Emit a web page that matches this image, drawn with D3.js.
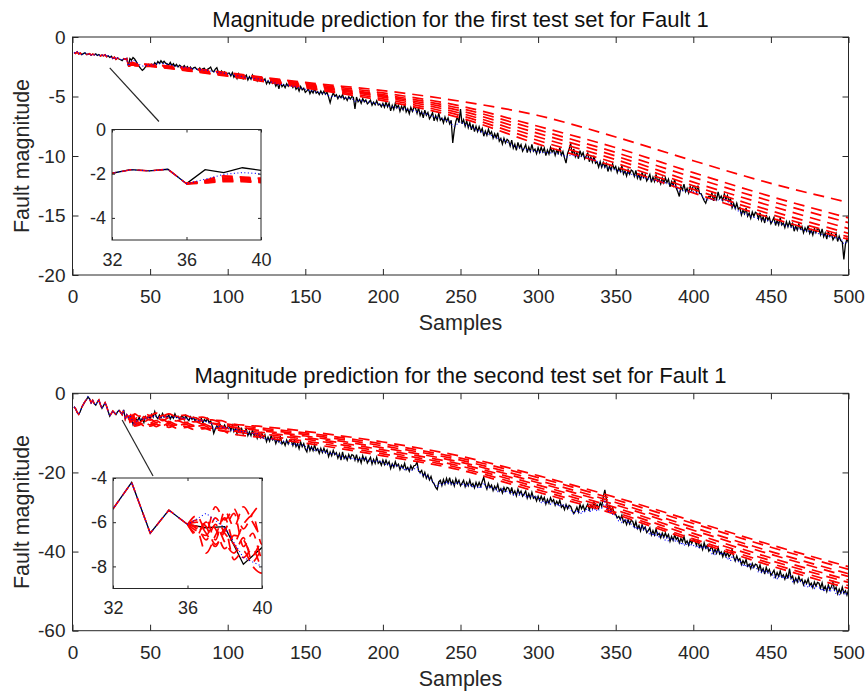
<!DOCTYPE html>
<html>
<head>
<meta charset="utf-8">
<script src="https://cdn.jsdelivr.net/npm/d3@7"></script>
<style>
body { margin: 0; background: #fff; }
svg text { font-family: "Liberation Sans", Arial, Helvetica, sans-serif; fill: #262626; }
</style>
</head>
<body>
<div id="chart"></div>
<script>
// tick values and labels
const xTicks = [0, 50, 100, 150, 200, 250, 300, 350, 400, 450, 500];
const topYTicks = [0, -5, -10, -15, -20];
const bottomYTicks = [0, -20, -40, -60];
const insetXTicks = [32, 36, 40];
const topInsetYTicks = [0, -2, -4];
const bottomInsetYTicks = [-4, -6, -8];
const titles = ["Magnitude prediction for the first test set for Fault 1",
                "Magnitude prediction for the second test set for Fault 1"];
const xLabel = "Samples";
const yLabel = "Fault magnitude";

// sample numbers 1..500
const samples = d3.range(1, 501);
const historyEnd = 36;

// true fault magnitude, first test set
const blackTop = [
-1.30,-1.38,-1.25,-1.42,-1.35,-1.48,-1.40,-1.33,-1.47,-1.45,-1.40,-1.52,-1.44,-1.50,-1.42,-1.55,-1.47,-1.60,-1.52,-1.58,
-1.50,-1.66,-1.58,-1.72,-1.62,-1.80,-1.70,-1.88,-1.76,-1.85,-1.90,-1.98,-1.82,-1.87,-1.80,-2.45,-1.82,-1.95,-1.73,-1.85,
-2.05,-2.30,-2.48,-2.66,-2.80,-2.70,-2.52,-2.40,-2.30,-2.42,-2.28,-2.40,-2.16,-2.32,-2.06,-2.22,-2.00,-2.18,-2.04,-2.20,
-2.26,-2.36,-2.14,-2.40,-2.24,-2.46,-2.30,-2.52,-2.36,-2.48,-2.56,-2.40,-2.62,-2.48,-2.68,-2.52,-2.72,-2.58,-2.54,-2.70,
-2.76,-2.60,-2.84,-2.66,-2.62,-2.88,-2.72,-2.64,-2.52,-2.84,-2.92,-2.70,-2.58,-2.96,-3.04,-2.86,-3.10,-2.94,-3.18,-3.06,
-3.02,-3.28,-2.98,-3.38,-3.18,-3.49,-3.09,-3.35,-3.20,-3.52,-3.38,-3.20,-3.61,-3.34,-3.56,-3.21,-3.56,-3.45,-3.69,-3.39,
-3.64,-3.41,-3.68,-3.52,-3.94,-3.69,-3.92,-3.63,-3.90,-3.79,-4.13,-3.88,-4.36,-3.77,-4.17,-4.00,-4.26,-3.93,-4.14,-3.92,
-3.97,-4.25,-3.97,-4.39,-4.21,-4.54,-4.16,-4.44,-4.31,-4.65,-4.53,-4.35,-4.76,-4.49,-4.71,-4.36,-4.71,-4.60,-4.84,-4.54,
-4.79,-4.55,-4.81,-4.64,-5.05,-5.52,-5.01,-4.71,-4.97,-4.85,-5.18,-4.93,-5.11,-4.83,-5.23,-5.07,-5.33,-5.01,-5.22,-5.01,
-5.07,-6.05,-5.04,-5.45,-5.25,-5.57,-5.17,-5.44,-5.29,-5.62,-5.48,-5.31,-5.73,-5.47,-5.70,-5.36,-5.72,-5.62,-5.87,-5.58,
-5.90,-5.47,-5.87,-5.56,-6.21,-5.75,-6.09,-5.55,-5.96,-5.73,-6.25,-5.83,-6.12,-5.65,-6.30,-6.03,-6.45,-5.91,-6.25,-5.90,
-5.98,-6.42,-5.93,-6.60,-6.28,-6.80,-6.14,-6.58,-6.34,-6.88,-6.65,-6.36,-7.04,-6.60,-6.98,-6.40,-6.99,-6.82,-7.22,-6.72,
-7.10,-6.80,-7.30,-7.00,-8.90,-7.80,-7.10,-6.70,-7.20,-6.05,-7.30,-6.95,-7.50,-7.05,-7.62,-7.20,-7.80,-7.35,-7.95,-7.50,
-7.95,-7.54,-7.96,-7.67,-8.34,-7.90,-8.26,-7.74,-8.17,-7.96,-8.50,-8.13,-8.47,-8.05,-8.75,-8.53,-9.00,-8.51,-8.90,-8.60,
-8.73,-9.17,-8.67,-9.34,-9.01,-9.53,-8.86,-9.30,-9.05,-9.59,-9.35,-9.05,-9.71,-9.26,-9.62,-9.03,-9.60,-9.42,-9.80,-9.29,
-9.70,-9.26,-9.65,-9.33,-9.97,-9.50,-9.83,-9.28,-9.68,-9.44,-9.95,-9.51,-9.78,-9.29,-9.92,-9.63,-10.16,-10.60,-9.79,-9.42,
-8.95,-9.91,-9.40,-10.06,-9.72,-10.23,-9.55,-9.98,-9.72,-10.25,-10.00,-9.76,-10.48,-10.09,-10.51,-9.98,-10.61,-10.49,-10.93,-10.48,
-10.95,-10.53,-10.94,-10.64,-11.30,-10.85,-11.20,-10.67,-11.09,-10.87,-11.40,-10.99,-11.30,-10.84,-11.51,-11.25,-11.69,-11.16,-11.52,-11.18,
-11.28,-11.71,-11.21,-11.87,-11.54,-12.05,-11.38,-11.81,-11.56,-12.09,-11.85,-11.55,-12.22,-11.77,-12.14,-11.55,-12.13,-11.95,-12.34,-11.83,
-12.25,-11.83,-12.24,-11.94,-12.60,-12.15,-12.50,-11.97,-12.70,-13.00,-13.40,-12.57,-12.85,-12.36,-13.00,-12.71,-13.12,-12.56,-12.89,-12.52,
-12.58,-13.00,-12.49,-13.14,-13.16,-13.46,-13.76,-13.97,-13.54,-13.40,-13.45,-13.12,-13.77,-13.29,-13.64,-13.02,-13.58,-13.37,-13.74,-13.20,
-13.65,-13.32,-13.81,-13.60,-14.34,-13.98,-14.41,-13.97,-14.47,-14.34,-14.95,-14.54,-14.85,-14.39,-15.06,-14.80,-15.24,-14.71,-15.07,-14.73,
-14.83,-15.27,-14.77,-15.44,-15.11,-15.63,-14.96,-15.40,-15.15,-15.69,-15.45,-15.16,-15.84,-15.40,-15.78,-15.20,-15.79,-15.62,-16.02,-15.52,
-15.95,-15.54,-15.95,-15.66,-16.32,-15.88,-16.23,-15.71,-16.13,-15.92,-16.45,-16.03,-16.32,-15.85,-16.50,-16.23,-16.65,-16.11,-16.45,-16.10,
-16.18,-16.62,-16.12,-16.79,-16.46,-16.98,-16.31,-16.75,-16.50,-17.04,-16.80,-16.51,-17.18,-16.74,-17.11,-17.24,-18.70,-17.44,-16.96,-17.30
];

// estimated magnitude, first test set
const blueTop = [
-1.30,-1.38,-1.25,-1.42,-1.35,-1.48,-1.40,-1.33,-1.47,-1.45,-1.40,-1.52,-1.44,-1.50,-1.42,-1.55,-1.47,-1.60,-1.52,-1.58,
-1.50,-1.66,-1.58,-1.72,-1.62,-1.80,-1.70,-1.88,-1.76,-1.85,-1.90,-1.98,-1.82,-1.87,-1.80,-2.45,-2.25,-2.03,-1.95,-2.00,
-2.10,-2.22,-2.30,-2.38,-2.45,-2.42,-2.40,-2.38,-2.40,-2.38,-2.35,-2.32,-2.28,-2.25,-2.22,-2.24,-2.20,-2.22,-2.24,-2.26,
-2.30,-2.34,-2.32,-2.38,-2.40,-2.44,-2.46,-2.48,-2.50,-2.52,-2.56,-2.55,-2.60,-2.58,-2.64,-2.62,-2.68,-2.66,-2.70,-2.70,
-2.74,-2.72,-2.78,-2.76,-2.80,-2.82,-2.80,-2.84,-2.86,-2.88,-2.92,-2.90,-2.95,-2.98,-3.02,-3.00,-3.06,-3.05,-3.10,-3.12,
-3.16,-3.15,-3.20,-3.22,-3.26,-3.25,-3.28,-3.32,-3.31,-3.34,-3.38,-3.36,-3.42,-3.40,-3.46,-3.45,-3.48,-3.52,-3.50,-3.54,
-3.58,-3.62,-3.60,-3.66,-3.68,-3.72,-3.74,-3.78,-3.80,-3.84,-3.90,-3.96,-4.02,-4.00,-3.98,-4.02,-4.04,-4.02,-4.06,-4.08,
-4.12,-4.16,-4.14,-4.20,-4.24,-4.26,-4.30,-4.32,-4.36,-4.40,-4.46,-4.48,-4.52,-4.52,-4.56,-4.60,-4.60,-4.64,-4.66,-4.68,
-4.72,-4.78,-4.80,-4.86,-4.92,-5.00,-5.00,-4.98,-4.98,-5.00,-5.04,-5.04,-5.08,-5.08,-5.12,-5.12,-5.14,-5.16,-5.16,-5.20,
-5.24,-5.40,-5.36,-5.32,-5.34,-5.34,-5.38,-5.38,-5.42,-5.44,-5.48,-5.50,-5.52,-5.54,-5.58,-5.60,-5.64,-5.66,-5.70,-5.72,
-5.76,-5.76,-5.80,-5.82,-5.86,-5.86,-5.90,-5.92,-5.94,-5.96,-5.98,-6.00,-6.04,-6.06,-6.08,-6.10,-6.14,-6.16,-6.18,-6.20,
-6.24,-6.28,-6.30,-6.34,-6.38,-6.42,-6.44,-6.48,-6.52,-6.56,-6.62,-6.66,-6.70,-6.74,-6.76,-6.80,-6.84,-6.88,-6.92,-6.96,
-7.02,-7.08,-7.10,-7.20,-7.50,-7.50,-7.40,-7.30,-7.20,-7.10,-7.20,-7.30,-7.34,-7.42,-7.46,-7.54,-7.58,-7.66,-7.70,-7.78,
-7.84,-7.88,-7.94,-7.98,-8.04,-8.08,-8.14,-8.18,-8.24,-8.28,-8.34,-8.40,-8.44,-8.50,-8.54,-8.60,-8.64,-8.70,-8.74,-8.82,
-8.92,-9.00,-9.04,-9.14,-9.18,-9.24,-9.26,-9.32,-9.34,-9.38,-9.42,-9.44,-9.48,-9.50,-9.54,-9.56,-9.58,-9.60,-9.62,-9.62,
-9.66,-9.68,-9.72,-9.70,-9.68,-9.72,-9.70,-9.74,-9.72,-9.72,-9.78,-9.80,-9.84,-9.86,-9.90,-9.92,-10.00,-10.12,-10.06,-10.00,
-9.90,-9.94,-9.98,-9.96,-10.00,-10.00,-10.04,-10.04,-10.02,-10.06,-10.10,-10.12,-10.18,-10.24,-10.28,-10.36,-10.40,-10.48,-10.52,-10.62,
-10.78,-10.84,-10.92,-10.96,-11.00,-11.02,-11.08,-11.10,-11.14,-11.16,-11.22,-11.24,-11.30,-11.32,-11.36,-11.38,-11.42,-11.44,-11.50,-11.52,
-11.58,-11.62,-11.66,-11.70,-11.74,-11.76,-11.80,-11.82,-11.86,-11.88,-11.92,-11.94,-11.98,-12.00,-12.04,-12.06,-12.10,-12.12,-12.16,-12.18,
-12.22,-12.24,-12.28,-12.32,-12.36,-12.38,-12.42,-12.46,-12.58,-12.76,-12.96,-12.98,-12.92,-12.92,-12.90,-12.94,-12.94,-12.98,-12.98,-13.00,
-13.04,-13.08,-13.10,-13.14,-13.24,-13.40,-13.56,-13.70,-13.70,-13.66,-13.64,-13.66,-13.66,-13.68,-13.68,-13.70,-13.70,-13.70,-13.68,-13.66,
-13.66,-13.78,-13.90,-14.02,-14.14,-14.26,-14.38,-14.50,-14.62,-14.74,-14.78,-14.84,-14.86,-14.92,-14.96,-15.02,-15.06,-15.12,-15.14,-15.20,
-15.22,-15.26,-15.28,-15.32,-15.34,-15.38,-15.40,-15.44,-15.46,-15.50,-15.54,-15.56,-15.60,-15.62,-15.66,-15.68,-15.72,-15.74,-15.80,-15.86,
-15.90,-15.94,-15.98,-16.02,-16.04,-16.08,-16.10,-16.14,-16.16,-16.20,-16.24,-16.26,-16.30,-16.32,-16.36,-16.38,-16.42,-16.44,-16.48,-16.50,
-16.54,-16.56,-16.60,-16.62,-16.66,-16.68,-16.72,-16.74,-16.78,-16.82,-16.86,-16.88,-16.92,-16.94,-16.98,-17.10,-17.40,-17.30,-17.20,-17.20
];

// true fault magnitude, second test set
const blackBottom = [
-3.4,-3.9,-4.8,-5.3,-4.6,-3.5,-2.8,-2.1,-1.6,-0.9,-1.4,-2.4,-1.8,-2.6,-3.0,-2.2,-1.7,-2.9,-3.8,-3.1,
-2.4,-3.3,-4.6,-5.8,-5.1,-4.5,-4.9,-5.4,-4.7,-4.3,-4.8,-5.4,-4.2,-6.5,-5.45,-6.1,-6.25,-6.2,-7.9,-7.15,
-6.6,-6.9,-6.0,-7.2,-6.3,-7.4,-5.9,-6.5,-5.8,-6.4,-5.3,-6.0,-4.6,-5.9,-6.4,-5.5,-6.2,-5.1,-6.0,-5.6,
-6.2,-5.4,-6.5,-5.7,-6.3,-5.2,-6.1,-5.8,-6.6,-5.9,-5.8,-6.7,-5.6,-6.5,-6.9,-5.9,-6.6,-6.1,-7.0,-6.3,
-6.5,-7.2,-6.3,-7.5,-6.6,-7.1,-6.4,-7.4,-7.0,-8.2,-10.1,-9.0,-8.2,-8.9,-7.8,-8.4,-8.7,-8.0,-8.9,-8.5,
-8.2,-9.4,-8.1,-9.7,-8.9,-10.2,-8.5,-9.7,-8.9,-10.3,-9.7,-9.0,-10.7,-9.7,-10.7,-9.2,-10.7,-10.2,-11.4,-10.1,
-11.2,-10.1,-11.2,-10.5,-12.2,-11.1,-12.1,-10.7,-11.8,-11.3,-12.7,-11.6,-12.3,-11.1,-12.8,-12.2,-13.2,-11.8,-12.8,-11.8,
-12.0,-13.2,-11.9,-13.5,-12.7,-14.0,-12.3,-13.5,-12.7,-14.1,-14.8,-12.8,-14.5,-13.5,-14.5,-13.0,-14.5,-14.0,-15.2,-13.9,
-15.0,-13.9,-15.0,-14.3,-16.0,-14.8,-15.8,-14.4,-15.5,-15.0,-16.4,-15.3,-16.9,-14.8,-16.5,-15.8,-16.9,-15.5,-16.5,-15.5,
-15.7,-16.9,-15.5,-17.2,-16.3,-17.6,-15.8,-17.0,-16.2,-17.6,-16.9,-16.2,-17.9,-16.7,-17.7,-16.2,-17.7,-17.2,-18.2,-16.9,
-18.0,-16.9,-18.0,-17.3,-19.0,-17.8,-18.7,-17.3,-18.4,-17.9,-19.3,-18.2,-18.9,-17.7,-19.3,-18.7,-19.7,-18.3,-19.2,-18.3,
-18.2,-17.4,-19.6,-20.0,-19.5,-21.0,-20.0,-21.5,-20.6,-21.9,-21.0,-22.4,-22.9,-23.8,-24.3,-22.4,-22.0,-23.3,-21.8,-23.0,
-21.5,-22.7,-21.3,-23.0,-22.1,-23.4,-21.6,-22.8,-22.0,-23.4,-22.7,-22.0,-23.6,-22.5,-23.4,-21.9,-23.4,-22.8,-23.9,-22.5,
-23.6,-22.5,-23.5,-22.3,-21.2,-23.2,-24.2,-22.7,-23.8,-23.2,-24.6,-23.5,-24.3,-23.0,-24.7,-24.1,-25.2,-23.8,-24.7,-23.8,
-24.0,-25.2,-23.8,-25.5,-24.7,-25.9,-24.2,-25.4,-24.7,-26.0,-25.4,-24.7,-26.5,-25.4,-26.5,-25.0,-26.5,-26.1,-27.2,-26.0,
-27.1,-26.0,-27.1,-26.3,-28.0,-26.8,-27.8,-26.4,-27.4,-26.9,-28.3,-27.3,-28.1,-27.0,-28.8,-28.3,-29.4,-28.1,-29.2,-28.3,
-28.6,-29.6,-30.4,-29.8,-28.8,-30.0,-28.1,-29.2,-28.3,-29.6,-28.8,-28.0,-29.5,-28.3,-29.1,-27.5,-28.8,-28.2,-29.1,-27.7,
-28.6,-26.2,-24.4,-26.8,-29.3,-28.5,-29.8,-29.0,-30.2,-30.6,-31.5,-31.1,-31.9,-30.8,-32.6,-32.0,-33.2,-31.9,-33.0,-32.1,
-32.4,-33.7,-32.4,-34.2,-33.4,-34.8,-33.2,-34.4,-33.8,-35.2,-34.7,-34.0,-35.8,-34.7,-35.8,-34.3,-35.8,-35.4,-36.5,-35.3,
-36.4,-35.3,-36.4,-35.7,-37.4,-36.2,-37.2,-35.8,-36.9,-36.4,-37.8,-36.7,-37.5,-36.2,-37.9,-37.3,-38.4,-37.0,-37.9,-37.0,
-37.2,-38.4,-37.2,-38.9,-38.2,-39.5,-37.8,-39.1,-38.4,-39.9,-39.3,-38.7,-40.4,-39.4,-40.4,-39.0,-40.6,-40.1,-41.3,-40.0,
-41.2,-40.2,-41.3,-40.7,-39.4,-41.4,-42.4,-41.1,-42.3,-41.8,-43.3,-42.3,-43.1,-42.0,-43.7,-43.2,-44.3,-43.0,-44.0,-43.2,
-43.4,-44.6,-43.4,-45.1,-44.3,-45.7,-44.0,-45.2,-44.5,-46.0,-45.4,-44.7,-46.4,-45.3,-46.3,-44.9,-46.4,-45.9,-47.0,-45.7,
-46.8,-44.3,-46.8,-46.2,-47.9,-46.7,-47.7,-46.3,-47.5,-47.0,-48.4,-47.3,-48.1,-46.9,-48.6,-48.0,-49.1,-47.7,-48.7,-47.8,
-48.0,-49.2,-47.9,-49.6,-48.8,-50.1,-48.4,-49.6,-48.9,-47.8,-49.7,-49.0,-50.7,-49.5,-50.5,-49.0,-50.5,-49.9,-51.0,-49.7
];

// estimated magnitude, second test set
const blueBottom = [
-3.4,-3.9,-4.8,-5.3,-4.6,-3.5,-2.8,-2.1,-1.6,-0.9,-1.4,-2.4,-1.8,-2.6,-3.0,-2.2,-1.7,-2.9,-3.8,-3.1,
-2.4,-3.3,-4.6,-5.8,-5.1,-4.5,-4.9,-5.4,-4.7,-4.3,-4.8,-5.4,-4.2,-6.5,-5.45,-6.1,-5.6,-6.25,-7.6,-8.0,
-7.2,-6.8,-6.6,-6.9,-6.4,-6.7,-6.3,-6.1,-6.4,-6.0,-5.8,-5.9,-5.5,-6.0,-6.2,-5.8,-6.1,-5.7,-6.1,-5.9,
-6.1,-5.8,-6.3,-6.0,-6.2,-5.9,-6.2,-6.0,-6.4,-6.1,-6.2,-6.6,-6.1,-6.5,-6.7,-6.3,-6.6,-6.4,-6.9,-6.6,
-6.8,-7.1,-6.8,-7.3,-6.9,-7.2,-7.0,-7.4,-7.3,-7.9,-9.2,-8.9,-8.5,-8.7,-8.3,-8.5,-8.7,-8.4,-8.8,-8.7,
-8.9,-9.3,-9.0,-9.5,-9.2,-9.0,-9.5,-9.3,-9.7,-9.5,-9.7,-10.1,-9.8,-10.3,-10.0,-10.2,-9.9,-10.5,-10.2,-10.6,
-10.9,-11.3,-11.0,-11.5,-11.3,-11.8,-11.5,-11.8,-11.6,-12.0,-12.0,-12.4,-12.1,-12.6,-12.3,-12.1,-12.5,-12.3,-12.8,-12.6,
-12.7,-13.1,-12.8,-13.3,-13.0,-12.8,-13.2,-13.0,-13.4,-13.4,-14.2,-13.9,-13.7,-14.2,-13.9,-14.4,-14.1,-14.3,-14.0,-14.6,
-14.6,-15.1,-14.8,-15.3,-15.0,-15.2,-14.9,-15.5,-15.2,-15.5,-15.6,-16.0,-16.5,-15.9,-16.3,-16.7,-16.0,-16.3,-16.0,-16.5,
-16.3,-16.8,-16.5,-17.0,-16.7,-16.3,-16.8,-16.5,-17.0,-16.8,-16.9,-17.3,-17.0,-17.5,-17.2,-16.9,-17.3,-17.1,-17.6,-17.4,
-17.7,-18.1,-17.7,-18.4,-18.0,-18.2,-17.9,-18.5,-18.2,-18.5,-18.6,-19.1,-18.7,-19.3,-18.9,-19.5,-19.0,-19.2,-19.5,-19.2,
-18.9,-18.6,-19.6,-20.3,-20.2,-20.8,-20.5,-21.2,-20.9,-21.6,-21.7,-22.2,-22.8,-23.3,-23.8,-23.0,-22.6,-23.1,-22.6,-23.0,
-22.4,-22.9,-22.3,-23.1,-22.6,-23.0,-22.5,-22.9,-22.6,-22.8,-22.9,-23.4,-22.9,-23.6,-23.1,-23.5,-23.0,-23.6,-23.3,-23.4,
-23.9,-23.4,-24.1,-23.2,-22.6,-23.3,-23.8,-23.4,-24.0,-23.8,-24.0,-24.6,-24.1,-24.8,-24.3,-24.6,-24.1,-24.9,-24.5,-24.8,
-24.8,-25.4,-25.0,-25.7,-25.2,-25.6,-25.0,-25.9,-25.4,-25.7,-25.6,-26.3,-25.8,-26.4,-26.0,-26.3,-25.8,-26.6,-26.2,-26.4,
-26.9,-27.6,-27.1,-27.9,-27.3,-27.6,-27.1,-28.0,-27.5,-27.8,-27.8,-28.5,-27.9,-28.7,-28.1,-28.4,-28.0,-28.9,-28.4,-29.0,
-29.4,-30.1,-30.5,-29.9,-29.5,-30.3,-29.8,-30.5,-29.6,-29.9,-29.2,-29.8,-29.3,-30.0,-29.5,-29.7,-29.1,-29.9,-29.5,-29.3,
-29.0,-28.2,-27.4,-28.6,-29.6,-30.2,-29.8,-30.6,-30.4,-31.1,-31.6,-32.4,-31.8,-32.6,-32.0,-32.4,-31.9,-33.0,-32.5,-33.1,
-33.4,-34.2,-33.6,-34.5,-33.8,-34.3,-33.7,-34.7,-34.1,-34.6,-35.0,-35.8,-35.1,-36.1,-35.4,-35.9,-35.3,-36.3,-35.7,-36.2,
-36.4,-37.2,-36.5,-37.4,-36.7,-37.1,-36.6,-37.6,-37.0,-37.4,-37.5,-38.3,-37.6,-38.6,-37.9,-38.4,-37.7,-38.7,-38.1,-38.5,
-38.3,-39.1,-38.4,-39.3,-38.6,-39.0,-38.5,-39.4,-38.8,-39.2,-39.7,-40.5,-39.8,-40.7,-40.0,-40.4,-39.9,-40.9,-40.3,-40.8,
-41.2,-42.1,-41.4,-42.4,-41.0,-41.7,-42.3,-41.9,-42.7,-42.2,-42.9,-43.8,-43.1,-44.0,-43.3,-43.8,-43.2,-44.1,-43.6,-44.0,
-44.4,-45.3,-44.6,-45.5,-44.8,-45.3,-44.7,-45.6,-45.0,-45.4,-45.8,-46.6,-45.9,-46.8,-46.1,-46.6,-46.0,-46.9,-46.3,-46.7,
-46.9,-45.8,-46.4,-47.6,-47.1,-47.6,-47.0,-47.9,-47.4,-47.8,-48.0,-48.9,-48.2,-49.1,-48.4,-48.9,-48.3,-49.3,-48.7,-49.0,
-49.0,-49.8,-49.2,-50.1,-49.4,-49.8,-49.1,-50.3,-49.6,-49.1,-49.9,-50.7,-50.1,-50.9,-50.3,-50.6,-50.0,-51.1,-50.5,-50.8
];

// multi-step predictions, first test set (sample positions, then one row per prediction)
const redTopX = [36, 37, 38, 39, 40, 50, 75, 100, 150, 200, 250, 300, 350, 400, 450, 500];
const redTop = [
  [-2.45, -2.30, -2.10, -2.15, -2.20, -2.30, -2.62, -3.00, -3.82, -4.50, -5.40, -6.60, -8.40, -10.40, -12.30, -13.90],
  [-2.45, -2.32, -2.15, -2.18, -2.24, -2.33, -2.66, -3.05, -3.90, -4.70, -5.80, -7.50, -9.30, -11.40, -13.40, -15.20],
  [-2.45, -2.34, -2.20, -2.22, -2.28, -2.36, -2.70, -3.10, -3.98, -4.85, -6.00, -7.80, -9.70, -11.80, -13.80, -15.60],
  [-2.45, -2.36, -2.24, -2.26, -2.32, -2.39, -2.74, -3.15, -4.05, -4.95, -6.20, -8.10, -10.00, -12.20, -14.20, -16.10],
  [-2.45, -2.38, -2.28, -2.30, -2.35, -2.42, -2.78, -3.20, -4.12, -5.05, -6.40, -8.40, -10.30, -12.50, -14.60, -16.50],
  [-2.45, -2.40, -2.32, -2.33, -2.38, -2.45, -2.82, -3.25, -4.20, -5.20, -6.60, -8.70, -10.60, -12.80, -14.90, -16.80],
  [-2.45, -2.42, -2.36, -2.36, -2.40, -2.48, -2.86, -3.30, -4.28, -5.35, -6.80, -9.00, -10.90, -13.10, -15.20, -17.00]
];

// multi-step predictions, second test set
const redBottomX = [36, 36.5, 37, 37.5, 38, 38.5, 39, 39.5, 40, 43, 46, 50, 54, 58, 62, 67, 72, 78, 84, 90, 96,
                    100, 125, 150, 200, 250, 300, 350, 400, 450, 500];
const redBottom = [
  [-6.1, -5.7, -6.4, -5.3, -5.9, -5.4, -6.3, -5.6, -5.2, -5.8, -5.1, -5.6, -5.0, -5.7, -5.2, -5.9, -5.5, -6.2, -6.0, -6.8, -6.9,
   -7.5, -8.5, -9.6, -12.3, -15.9, -20.8, -26.3, -32.3, -38.3, -43.8],
  [-6.1, -6.6, -5.9, -6.8, -5.5, -6.2, -5.3, -6.0, -6.6, -5.5, -6.3, -5.8, -6.5, -5.6, -6.3, -5.8, -6.6, -6.1, -6.9, -6.7, -7.5,
   -7.8, -8.9, -10.0, -12.8, -16.4, -21.3, -26.9, -32.9, -38.9, -44.5],
  [-6.1, -6.3, -7.4, -6.6, -5.8, -6.9, -6.1, -5.7, -7.0, -6.4, -5.9, -6.8, -6.0, -6.9, -6.2, -7.0, -6.4, -7.2, -6.9, -7.6, -7.7,
   -8.2, -9.3, -10.4, -13.3, -16.9, -22.0, -27.6, -33.9, -40.0, -45.6],
  [-6.1, -5.9, -6.2, -7.0, -6.4, -5.6, -7.1, -6.5, -7.6, -6.9, -7.2, -6.5, -7.3, -6.6, -7.4, -6.8, -7.5, -7.0, -7.8, -7.6, -8.3,
   -8.5, -9.6, -10.8, -13.8, -17.4, -22.6, -28.2, -34.6, -40.7, -46.3],
  [-6.1, -6.5, -6.0, -6.3, -7.2, -6.6, -6.8, -7.5, -6.9, -7.4, -6.7, -7.5, -6.9, -7.7, -7.1, -7.9, -7.3, -8.1, -7.7, -8.5, -8.4,
   -8.9, -10.0, -11.2, -14.3, -17.9, -23.2, -28.9, -35.4, -41.6, -47.2],
  [-6.1, -6.2, -6.8, -6.1, -6.9, -7.4, -6.7, -7.8, -7.3, -7.9, -7.2, -8.0, -7.4, -8.2, -7.6, -8.3, -7.8, -8.5, -8.1, -8.9, -8.8,
   -9.2, -10.4, -11.6, -14.8, -18.4, -23.8, -29.5, -36.1, -42.3, -47.8],
  [-6.1, -6.4, -6.6, -5.8, -6.5, -7.0, -7.6, -7.2, -8.0, -7.5, -8.2, -7.6, -8.4, -7.8, -8.6, -8.0, -8.7, -8.3, -9.0, -8.8, -9.5,
   -9.6, -10.8, -12.1, -15.3, -18.9, -24.4, -30.1, -36.8, -43.0, -48.6],
  [-6.1, -6.0, -6.5, -7.1, -6.3, -7.7, -7.3, -8.0, -8.3, -8.0, -7.6, -8.3, -7.8, -8.5, -8.0, -8.8, -8.3, -9.1, -8.7, -9.4, -9.3,
   -10.0, -11.3, -12.6, -15.8, -19.4, -25.0, -30.6, -37.3, -43.6, -49.3]
];

const W = 865, H = 694;
const ink = "#262626";
const svg = d3.select("#chart").append("svg").attr("width", W).attr("height", H);

const panels = [
  { title: titles[0], top: 37, bottom: 275, yDomain: [-20, 0], yTicks: topYTicks,
    black: blackTop, blue: blueTop, redX: redTopX, red: redTop,
    inset: { left: 112, right: 261, top: 129.5, bottom: 240, yDomain: [-5, 0], yTicks: topInsetYTicks },
    pointer: [[24, -2.6], [55.7, -7.1]] },
  { title: titles[1], top: 393.3, bottom: 630.7, yDomain: [-60, 0], yTicks: bottomYTicks,
    black: blackBottom, blue: blueBottom, redX: redBottomX, red: redBottom,
    inset: { left: 113, right: 262, top: 478, bottom: 588.5, yDomain: [-9, -4], yTicks: bottomInsetYTicks },
    pointer: [[32, -6.75], [51.9, -20.9]] }
];

const left = 72.5, right = 848.5;

function drawLines(g, x, y, p, clipId) {
  const lineGen = d3.line().x(d => x(d[0])).y(d => y(d[1]));
  const smoothGen = d3.line().x(d => x(d[0])).y(d => y(d[1])).curve(d3.curveMonotoneX);
  const layer = g.append("g").attr("clip-path", `url(#${clipId})`);

  layer.append("path")
    .datum(samples.map((s, i) => [s, p.black[i]]))
    .attr("d", lineGen)
    .attr("fill", "none").attr("stroke", "#000").attr("stroke-width", 1.3);

  // predictions share the measured history up to the start sample
  layer.append("path")
    .datum(samples.slice(0, historyEnd).map((s, i) => [s, p.black[i]]))
    .attr("d", lineGen)
    .attr("fill", "none").attr("stroke", "#ff0000").attr("stroke-width", 1.6)
    .attr("stroke-dasharray", "10,6");

  p.red.forEach(r => {
    layer.append("path")
      .datum(p.redX.map((s, i) => [s, r[i]]))
      .attr("d", smoothGen)
      .attr("fill", "none").attr("stroke", "#ff0000").attr("stroke-width", 1.7)
      .attr("stroke-dasharray", "11,7");
  });

  layer.append("path")
    .datum(samples.map((s, i) => [s, p.blue[i]]))
    .attr("d", lineGen)
    .attr("fill", "none").attr("stroke", "#0000ff").attr("stroke-width", 1.1)
    .attr("stroke-dasharray", "1,2.5");
}

function styleAxis(sel, size) {
  sel.select(".domain").remove();
  sel.selectAll(".tick line").attr("stroke", ink);
  sel.selectAll(".tick text").attr("font-size", size + "px").style("fill", ink)
    .attr("font-family", "Liberation Sans, Arial, sans-serif");
}

function drawBox(g, x, y, ticksX, ticksY, tick, size, padX, padY) {
  const [x0, x1] = x.range(), [y1, y0] = y.range();
  const fmt = d => String(d);
  g.append("g").attr("transform", `translate(0,${y1})`)
    .call(d3.axisBottom(x).tickValues(ticksX).tickSize(-tick).tickSizeOuter(0).tickPadding(padX).tickFormat(fmt))
    .call(s => styleAxis(s, size));
  g.append("g").attr("transform", `translate(0,${y0})`)
    .call(d3.axisTop(x).tickValues(ticksX).tickSize(-tick).tickSizeOuter(0).tickFormat(""))
    .call(s => styleAxis(s, size));
  g.append("g").attr("transform", `translate(${x0},0)`)
    .call(d3.axisLeft(y).tickValues(ticksY).tickSize(-tick).tickSizeOuter(0).tickPadding(padY).tickFormat(fmt))
    .call(s => styleAxis(s, size));
  g.append("g").attr("transform", `translate(${x1},0)`)
    .call(d3.axisRight(y).tickValues(ticksY).tickSize(-tick).tickSizeOuter(0).tickFormat(""))
    .call(s => styleAxis(s, size));
  g.append("rect").attr("x", x0).attr("y", y0).attr("width", x1 - x0).attr("height", y1 - y0)
    .attr("fill", "none").attr("stroke", ink).attr("stroke-width", 1);
}

panels.forEach((p, k) => {
  const g = svg.append("g");
  const x = d3.scaleLinear().domain([0, 500]).range([left, right]);
  const y = d3.scaleLinear().domain(p.yDomain).range([p.bottom, p.top]);

  const defs = g.append("defs");
  defs.append("clipPath").attr("id", `main-${k}`).append("rect")
    .attr("x", left).attr("y", p.top).attr("width", right - left).attr("height", p.bottom - p.top);
  defs.append("clipPath").attr("id", `inset-${k}`).append("rect")
    .attr("x", p.inset.left).attr("y", p.inset.top)
    .attr("width", p.inset.right - p.inset.left).attr("height", p.inset.bottom - p.inset.top);

  drawLines(g, x, y, p, `main-${k}`);
  drawBox(g, x, y, xTicks, p.yTicks, 6, 19, 15, 7);

  // pointer from the zoomed region to the inset
  g.append("line")
    .attr("x1", x(p.pointer[0][0])).attr("y1", y(p.pointer[0][1]))
    .attr("x2", x(p.pointer[1][0])).attr("y2", y(p.pointer[1][1]))
    .attr("stroke", ink).attr("stroke-width", 1.2);

  // inset
  const ix = d3.scaleLinear().domain([32, 40]).range([p.inset.left, p.inset.right]);
  const iy = d3.scaleLinear().domain(p.inset.yDomain).range([p.inset.bottom, p.inset.top]);
  g.append("rect").attr("x", p.inset.left).attr("y", p.inset.top)
    .attr("width", p.inset.right - p.inset.left).attr("height", p.inset.bottom - p.inset.top)
    .attr("fill", "#fff");
  drawLines(g, ix, iy, p, `inset-${k}`);
  drawBox(g, ix, iy, insetXTicks, p.inset.yTicks, 3, 18, 13, 6);

  g.append("text").attr("x", (left + right) / 2).attr("y", p.top - 10)
    .attr("text-anchor", "middle").attr("font-size", "22px").style("fill", "#111")
    .text(p.title);
  g.append("text").attr("x", (left + right) / 2).attr("y", p.bottom + 55)
    .attr("text-anchor", "middle").attr("font-size", "21.5px")
    .text(xLabel);
  g.append("text").attr("transform", `translate(28.5,${(p.top + p.bottom) / 2}) rotate(-90)`)
    .attr("text-anchor", "middle").attr("font-size", "21.5px")
    .text(yLabel);
});
</script>
</body>
</html>
